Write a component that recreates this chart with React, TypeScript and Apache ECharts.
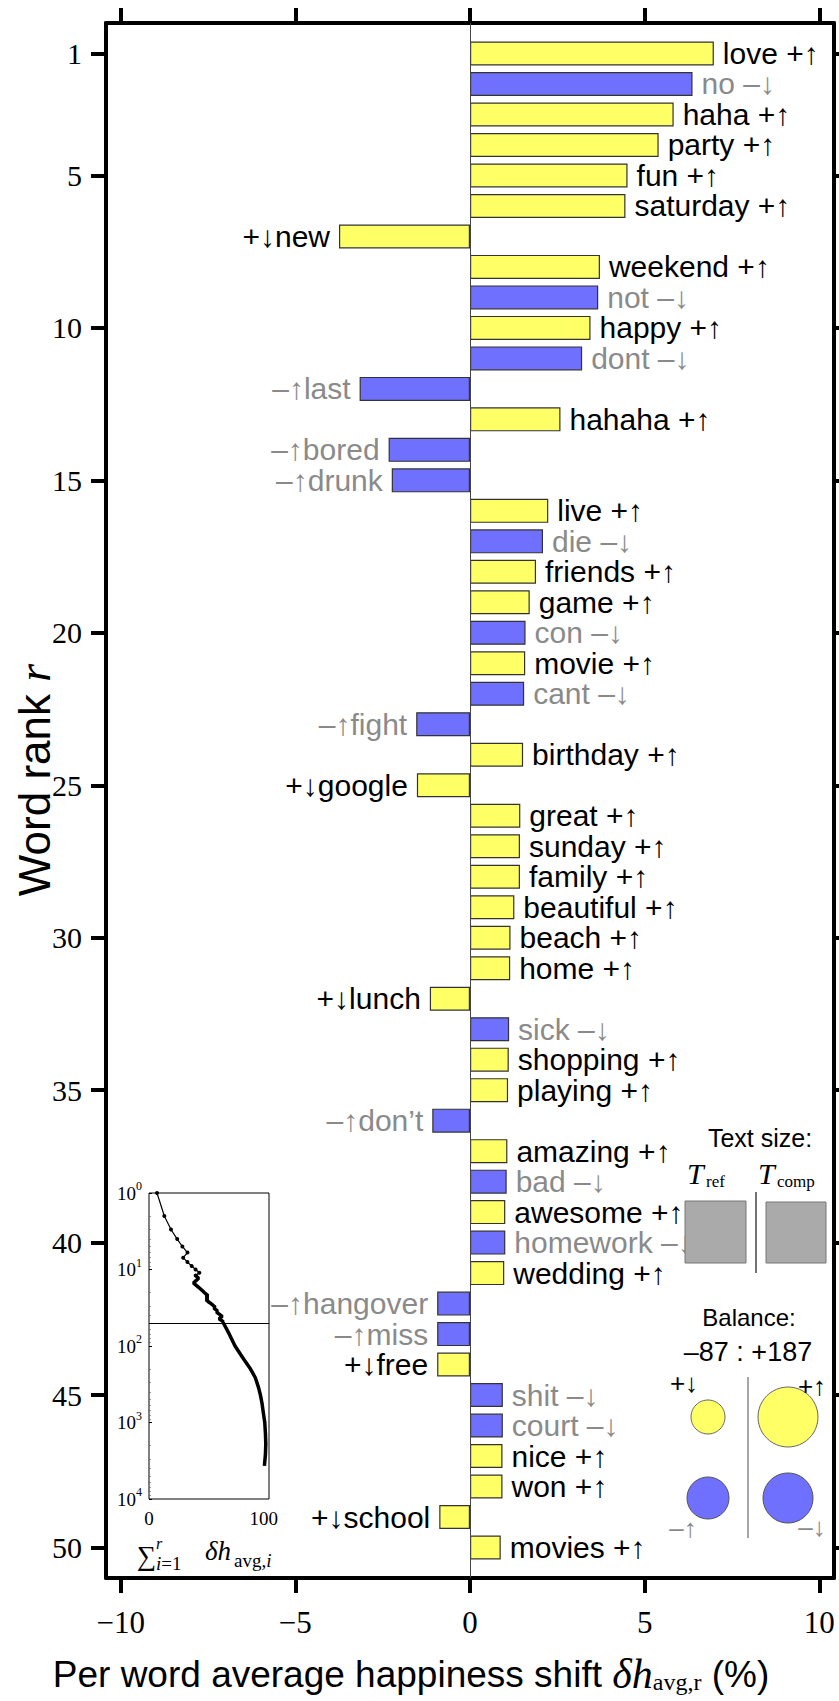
import React, { useEffect, useRef } from "react";
import * as echarts from "echarts";

const ranks = [
  1, 2, 3, 4, 5, 6, 7, 8, 9, 10, 11, 12, 13, 14, 15, 16, 17, 18, 19, 20, 21, 22, 23, 24, 25,
  26, 27, 28, 29, 30, 31, 32, 33, 34, 35, 36, 37, 38, 39, 40, 41, 42, 43, 44, 45, 46, 47, 48, 49, 50,
];
const words = [
  "love", "no", "haha", "party", "fun", "saturday", "new", "weekend", "not", "happy",
  "dont", "last", "hahaha", "bored", "drunk", "live", "die", "friends", "game", "con",
  "movie", "cant", "fight", "birthday", "google", "great", "sunday", "family", "beautiful", "beach",
  "home", "lunch", "sick", "shopping", "playing", "don\u2019t", "amazing", "bad", "awesome", "homework",
  "wedding", "hangover", "miss", "free", "shit", "court", "nice", "won", "school", "movies",
];
const shifts = [
  6.98, 6.37, 5.83, 5.4, 4.51, 4.45, -3.75, 3.72, 3.67, 3.45,
  3.21, -3.16, 2.59, -2.33, -2.24, 2.24, 2.09, 1.89, 1.71, 1.59,
  1.58, 1.55, -1.54, 1.52, -1.52, 1.44, 1.43, 1.43, 1.27, 1.16,
  1.15, -1.15, 1.12, 1.11, 1.09, -1.08, 1.07, 1.05, 1.01, 1.01,
  0.98, -0.94, -0.94, -0.94, 0.94, 0.94, 0.93, 0.93, -0.88, 0.88,
];
const kinds = [
  "+", "-", "+", "+", "+", "+", "+", "+", "-", "+",
  "-", "-", "+", "-", "-", "+", "-", "+", "+", "-",
  "+", "-", "-", "+", "+", "+", "+", "+", "+", "+",
  "+", "+", "-", "+", "+", "-", "+", "-", "+", "-",
  "+", "-", "-", "+", "-", "-", "+", "+", "+", "+",
];
const yTicks = [1, 5, 10, 15, 20, 25, 30, 35, 40, 45, 50];
const xTicks = [-10, -5, 0, 5, 10];

// cumulative shift inset
const insetRanks = [
  1, 2, 3, 4, 5, 6, 7, 8, 9, 10, 11, 12, 13, 14, 15, 16, 17, 18, 19, 20, 21, 22, 23, 24, 25,
  26, 27, 28, 29, 30, 31, 32, 33, 34, 35, 36, 37, 38, 39, 40, 41, 42, 43, 44, 45, 46, 47, 48, 49, 50,
  70, 100, 130, 160, 200, 260, 350, 430, 560, 700, 1000, 1400, 1900, 2600, 3700,
];
const insetCum = [
  6.98, 13.35, 19.18, 24.58, 29.09, 33.54, 29.79, 33.51, 37.18, 40.63,
  43.84, 40.68, 43.27, 40.94, 38.7, 40.94, 43.03, 44.92, 46.63, 48.22,
  49.8, 51.35, 49.81, 51.33, 49.81, 51.25, 52.68, 54.11, 55.38, 56.54,
  57.69, 56.54, 57.66, 58.77, 59.86, 58.78, 59.85, 60.9, 61.91, 62.92,
  63.9, 62.96, 62.02, 61.08, 62.02, 62.96, 63.89, 64.82, 63.94, 64.82,
  70, 75, 80, 84, 88.5, 92.7, 95.5, 97, 98.5, 99.4, 100.9, 101.5, 101.8, 101.5, 100.6,
];
const insetXTicks = [0, 100];
const insetCutRank = 50;
const balanceText = "\u201387 : +187";

const YELLOW = "#ffff66";
const BLUE = "#7070ff";
const GRAY = "#8a8a8a";
const SANS = '"Liberation Sans", Arial, sans-serif';
const SERIF = '"Liberation Serif", "Times New Roman", serif';

function txt(x: number, y: number, text: string, size: number, opts: any = {}) {
  return {
    type: "text",
    z: opts.z ?? 100,
    x,
    y,
    rotation: opts.rotation ?? 0,
    style: {
      text,
      fontFamily: opts.family ?? SANS,
      fontStyle: opts.italic ? "italic" : "normal",
      fontSize: size,
      fill: opts.color ?? "#000",
      align: opts.align ?? "center",
      verticalAlign: "middle",
      rich: opts.rich,
    },
  };
}

export default function App() {
  const ref = useRef<HTMLDivElement>(null);
  useEffect(() => {
    document.body.style.margin = "0";
    const chart = echarts.init(ref.current as HTMLDivElement, null, { renderer: "svg" });

    const yCats = ["0", ...ranks.map(String), "51"];
    const barData: any[] = [
      null,
      ...ranks.map((r, i) => {
        const v = shifts[i];
        const k = kinds[i];
        const up = (k === "+") === v > 0;
        const arrow = up ? "\u2191" : "\u2193";
        const sign = k === "+" ? "+" : "\u2013";
        const right = v > 0;
        return {
          value: v,
          itemStyle: { color: k === "+" ? YELLOW : BLUE },
          label: {
            position: right ? "right" : "left",
            formatter: right ? `${words[i]} ${sign}${arrow}` : `${sign}${arrow}${words[i]}`,
            color: k === "+" ? "#000" : GRAY,
          },
        };
      }),
      null,
    ];

    const tickFn = (_idx: number, val: string) => yTicks.includes(Number(val));

    const pts = insetRanks.map((r, i) => [insetCum[i], r]);
    const thin = pts.filter((p) => p[1] <= 12);
    const thick = pts.filter((p) => p[1] >= 12);

    const frameAxisLine = { show: true, onZero: false, lineStyle: { color: "#000", width: 4 } };
    const frameTick = { show: true, length: 15, lineStyle: { color: "#000", width: 4 } };

    const option: any = {
      animation: false,
      backgroundColor: "#fff",
      grid: [
        { left: 106, top: 23, width: 728, height: 1555 },
        {
          left: 149, top: 1193, width: 120, height: 306,
          show: true, borderColor: "#000", borderWidth: 1, backgroundColor: "transparent",
        },
      ],
      xAxis: [
        {
          type: "value", gridIndex: 0, position: "bottom", min: -10.42, max: 10.42,
          axisLine: frameAxisLine,
          axisTick: { ...frameTick, customValues: xTicks },
          axisLabel: {
            customValues: xTicks, margin: 29, color: "#000", fontFamily: SERIF, fontSize: 31,
            formatter: (v: number) => (v < 0 ? "\u2212" + Math.abs(v) : String(v)),
          },
          splitLine: { show: false },
        },
        {
          type: "value", gridIndex: 0, position: "top", min: -10.42, max: 10.42,
          axisLine: frameAxisLine,
          axisTick: { ...frameTick, customValues: xTicks },
          axisLabel: { show: false },
          splitLine: { show: false },
        },
        {
          type: "value", gridIndex: 1, min: 0, max: 104.6,
          axisLine: { show: false, onZero: false },
          axisTick: { show: false },
          axisLabel: { customValues: insetXTicks, margin: 10, color: "#000", fontFamily: SERIF, fontSize: 19 },
          splitLine: { show: false },
        },
      ],
      yAxis: [
        {
          type: "category", gridIndex: 0, position: "left", data: yCats, inverse: true, boundaryGap: false,
          axisLine: frameAxisLine,
          axisTick: { ...frameTick, interval: tickFn },
          axisLabel: { interval: tickFn, margin: 24, color: "#000", fontFamily: SERIF, fontSize: 30 },
          splitLine: { show: false },
        },
        {
          type: "category", gridIndex: 0, position: "right", data: yCats, inverse: true, boundaryGap: false,
          axisLine: frameAxisLine,
          axisTick: { ...frameTick, interval: tickFn },
          axisLabel: { show: false },
          splitLine: { show: false },
        },
        {
          type: "log", gridIndex: 1, logBase: 10, min: 1, max: 10000, inverse: true,
          axisLine: { show: false, onZero: false },
          axisTick: { show: true, inside: true, length: 3, lineStyle: { color: "#000", width: 1 } },
          minorTick: { show: true, splitNumber: 9, length: 2, lineStyle: { color: "#555", width: 0.6 } },
          axisLabel: {
            margin: 7,
            formatter: (v: number) => `{b|10}{e|${Math.round(Math.log10(v))}}`,
            rich: {
              b: { fontFamily: SERIF, fontSize: 19, color: "#000", lineHeight: 26 },
              e: { fontFamily: SERIF, fontSize: 12, color: "#000", lineHeight: 14, verticalAlign: "top" },
            },
          },
          splitLine: { show: false },
        },
      ],
      series: [
        {
          type: "bar",
          xAxisIndex: 0,
          yAxisIndex: 0,
          barWidth: 24,
          data: barData,
          itemStyle: { borderColor: "#333", borderWidth: 1.2 },
          label: { show: true, distance: 9, fontFamily: SANS, fontSize: 30 },
          markLine: {
            silent: true,
            symbol: "none",
            label: { show: false },
            lineStyle: { color: "#444", width: 1, type: "solid" },
            data: [{ xAxis: 0 }],
          },
        },
        {
          type: "line",
          xAxisIndex: 2,
          yAxisIndex: 2,
          data: thin,
          symbol: "circle",
          symbolSize: 4,
          itemStyle: { color: "#000" },
          lineStyle: { color: "#000", width: 1.2 },
        },
        {
          type: "line",
          xAxisIndex: 2,
          yAxisIndex: 2,
          data: thick,
          symbol: "none",
          lineStyle: { color: "#000", width: 3.5 },
          markLine: {
            silent: true,
            symbol: "none",
            label: { show: false },
            lineStyle: { color: "#000", width: 1, type: "solid" },
            data: [{ yAxis: insetCutRank }],
          },
        },
      ],
      graphic: [
        // axis titles
        txt(411, 1674, "{t|Per word average happiness shift }{m|\u03b4h}{s|avg,r}{t| (%)}", 37, {
          rich: {
            t: { fontFamily: SANS, fontSize: 37, color: "#000", lineHeight: 40 },
            m: { fontFamily: SERIF, fontStyle: "italic", fontSize: 42, color: "#000", lineHeight: 40 },
            s: { fontFamily: SERIF, fontSize: 24, color: "#000", lineHeight: 20, verticalAlign: "bottom" },
          },
        }),
        txt(34, 780, "{t|Word rank }{i|r}", 44, {
          rotation: Math.PI / 2,
          rich: {
            t: { fontFamily: SANS, fontSize: 44, color: "#000" },
            i: { fontFamily: SERIF, fontStyle: "italic", fontSize: 46, color: "#000" },
          },
        }),
        // Text size inset
        txt(760, 1138, "Text size:", 25),
        txt(687, 1173, "T", 30, { family: SERIF, italic: true, align: "left" }),
        txt(706, 1181, "ref", 17, { family: SERIF, align: "left" }),
        txt(758, 1173, "T", 30, { family: SERIF, italic: true, align: "left" }),
        txt(777, 1181, "comp", 17, { family: SERIF, align: "left" }),
        { type: "rect", z: 100, shape: { x: 685, y: 1201, width: 61, height: 62 }, style: { fill: "#aaaaaa", stroke: "#777", lineWidth: 1 } },
        { type: "rect", z: 100, shape: { x: 766, y: 1202, width: 60, height: 61 }, style: { fill: "#aaaaaa", stroke: "#777", lineWidth: 1 } },
        { type: "line", z: 100, shape: { x1: 756, y1: 1192, x2: 756, y2: 1273 }, style: { stroke: "#444", lineWidth: 1.5 } },
        // Balance inset
        txt(749, 1317, "Balance:", 24),
        txt(748, 1352, balanceText, 27),
        { type: "line", z: 100, shape: { x1: 748, y1: 1377, x2: 748, y2: 1538 }, style: { stroke: "#888", lineWidth: 1.5 } },
        { type: "circle", z: 100, shape: { cx: 708, cy: 1417, r: 17 }, style: { fill: YELLOW, stroke: "#666", lineWidth: 1 } },
        { type: "circle", z: 100, shape: { cx: 788, cy: 1417, r: 30 }, style: { fill: YELLOW, stroke: "#666", lineWidth: 1 } },
        { type: "circle", z: 100, shape: { cx: 708, cy: 1498, r: 21 }, style: { fill: BLUE, stroke: "#555", lineWidth: 1 } },
        { type: "circle", z: 100, shape: { cx: 788, cy: 1498, r: 25 }, style: { fill: BLUE, stroke: "#555", lineWidth: 1 } },
        txt(684, 1383, "+\u2193", 26, { z: 101 }),
        txt(812, 1386, "+\u2191", 26, { z: 101 }),
        txt(683, 1528, "\u2013\u2191", 26, { z: 101, color: GRAY }),
        txt(812, 1527, "\u2013\u2193", 26, { z: 101, color: GRAY }),
        // cumulative inset label
        txt(137, 1556, "\u2211", 27, { family: SERIF, align: "left" }),
        txt(156, 1543, "r", 16, { family: SERIF, italic: true, align: "left" }),
        txt(156, 1563, "{i|i}{n|=1}", 19, {
          align: "left",
          rich: {
            i: { fontFamily: SERIF, fontStyle: "italic", fontSize: 19, color: "#000" },
            n: { fontFamily: SERIF, fontSize: 19, color: "#000" },
          },
        }),
        txt(205, 1551, "\u03b4h", 27, { family: SERIF, italic: true, align: "left" }),
        txt(234, 1560, "{n|avg,}{i|i}", 19, {
          align: "left",
          rich: {
            i: { fontFamily: SERIF, fontStyle: "italic", fontSize: 19, color: "#000" },
            n: { fontFamily: SERIF, fontSize: 19, color: "#000" },
          },
        }),
      ],
    };

    chart.setOption(option);
    return () => chart.dispose();
  }, []);
  return <div ref={ref} style={{ width: 839, height: 1701 }} />;
}
